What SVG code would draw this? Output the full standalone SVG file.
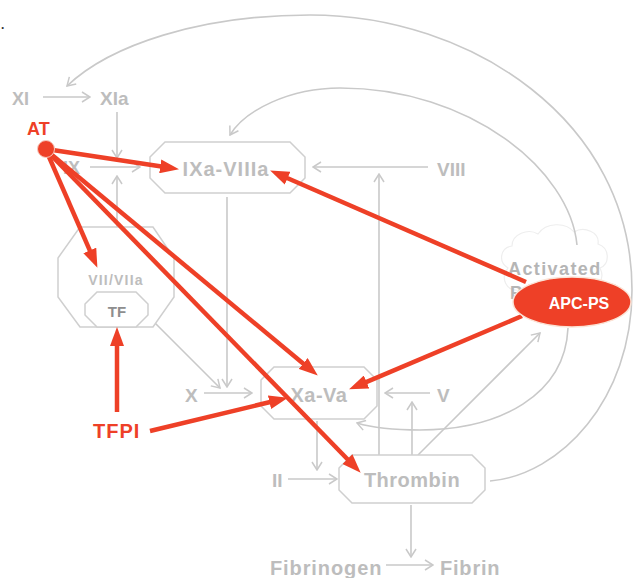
<svg xmlns="http://www.w3.org/2000/svg" width="633" height="578" viewBox="0 0 633 578">
<style>
.g{fill:none;stroke:#c9c9c9;stroke-width:1.6}
.ga{marker-end:url(#ga)}
.r{fill:none;stroke:#ee4027;stroke-width:4.5;marker-end:url(#ra)}
.box{fill:#fff;stroke:#cfcfcf;stroke-width:1.5}
.t{font-family:"Liberation Sans",Arial,sans-serif;font-weight:bold;fill:#bdbdbd}
.m{text-anchor:middle}
</style>
<defs>
<marker id="ga" viewBox="0 0 10 12" refX="9" refY="6" markerWidth="10" markerHeight="12" markerUnits="userSpaceOnUse" orient="auto">
<path d="M1,1 L9,6 L1,11" fill="none" stroke="#c9c9c9" stroke-width="1.5"/>
</marker>
<marker id="ra" viewBox="0 0 19 14" refX="3" refY="7" markerWidth="19" markerHeight="14" markerUnits="userSpaceOnUse" orient="auto">
<path d="M0,0 L19,7 L0,14 Z" fill="#ee4027"/>
</marker>
</defs>
<rect width="633" height="578" fill="#fff"/>
<text class="t" x="1" y="29" font-size="12" style="fill:#333">.</text>

<g id="cloud">
<path d="M508,268 C498,262 500,248 512,246 C512,234 528,228 538,234 C546,222 566,222 574,232 C584,226 600,232 598,244 C610,248 610,264 600,268 C606,280 596,292 584,288 L520,290 C506,292 500,278 508,268 Z" fill="none" stroke="#eeeeee" stroke-width="1.2"/>
<text class="t" x="508" y="275" font-size="18" letter-spacing="1.4" style="fill:#b5b5b5">Activated</text>
<text class="t" x="510" y="299" font-size="18" style="fill:#b5b5b5">P</text>
</g>

<g id="connectors">
<path class="g ga" d="M490,481 C560,475 632,400 632,290 C632,120 470,15 310,15 C200,15 110,45 67,86"/>
<path class="g ga" d="M577,245 C570,170 470,88 340,88 C290,88 245,110 230,135"/>
<path class="g ga" d="M568,328 C565,395 500,430 420,430 C390,430 370,427 357,423"/>
<path class="g ga" d="M43,97 H90"/>
<path class="g ga" d="M117,112 V158"/>
<path class="g ga" d="M90,167 H140"/>
<path class="g ga" d="M117,227 V176"/>
<path class="g ga" d="M428,167 H313"/>
<path class="g ga" d="M379,455 V174"/>
<path class="g ga" d="M227,197 V387"/>
<path class="g ga" d="M155,323 L220,388"/>
<path class="g ga" d="M204,393 H252"/>
<path class="g ga" d="M430,393 H385"/>
<path class="g ga" d="M412,455 V402"/>
<path class="g ga" d="M317,421 V470"/>
<path class="g ga" d="M288,479 H337"/>
<path class="g ga" d="M418,455 L540,333"/>
<path class="g ga" d="M411,505 V557"/>
<path class="g ga" d="M386,565 H433"/>
</g>

<g id="IXa-VIIIa">
<path class="box" d="M165,142 H290 L305,157 V178 L290,193 H165 L150,178 V157 Z"/>
<text class="t m" x="226" y="176" font-size="20" letter-spacing="1">IXa-VIIIa</text>
</g>
<g id="VII-VIIa">
<path class="box" d="M80,227 H153 L174,258 V297 L153,327 H80 L58,297 V258 Z"/>
<text class="t m" x="116" y="285" font-size="14" letter-spacing="1.2">VII/VIIa</text>
</g>
<g id="TF">
<path class="box" d="M97,292 H136 L148,304 V315 L136,327 H97 L85,315 V304 Z"/>
<text class="t m" x="117" y="317" font-size="15" style="fill:#8e8e8e">TF</text>
</g>
<g id="Xa-Va">
<path class="box" d="M274,367 H364 L377,380 V406 L364,419 H274 L261,406 V380 Z"/>
<text class="t m" x="319" y="402" font-size="20" letter-spacing="0.5">Xa-Va</text>
</g>
<g id="Thrombin">
<path class="box" d="M352,455 H472 L485,468 V490 L472,503 H352 L339,490 V468 Z"/>
<text class="t m" x="412" y="487" font-size="20" letter-spacing="0.5">Thrombin</text>
</g>
<g id="XI"><text class="t" x="12" y="105" font-size="18">XI</text></g>
<g id="XIa"><text class="t" x="100" y="105" font-size="19">XIa</text></g>
<g id="IX"><text class="t" x="63" y="174" font-size="18">IX</text></g>
<g id="VIII"><text class="t" x="437" y="176" font-size="19">VIII</text></g>
<g id="X"><text class="t" x="185" y="402" font-size="19">X</text></g>
<g id="V"><text class="t" x="437" y="402" font-size="19">V</text></g>
<g id="II"><text class="t" x="272" y="487" font-size="19">II</text></g>
<g id="Fibrinogen"><text class="t" x="270" y="575" font-size="20" letter-spacing="0.9">Fibrinogen</text></g>
<g id="Fibrin"><text class="t" x="440" y="575" font-size="20" letter-spacing="0.8">Fibrin</text></g>

<g id="inhibitors">
<path class="r" d="M46,149 L163.2,166.8"/>
<path class="r" d="M46,150 L91,253.2"/>
<path class="r" d="M46,150 L305.5,365.4"/>
<path class="r" d="M46,150 L349.5,461.3"/>
<path class="r" d="M117,412 V343"/>
<path class="r" d="M150,431 L272.4,401.5"/>
<path class="r" d="M526,282 L284.8,177"/>
<path class="r" d="M522,316 L363.8,383.1"/>
</g>

<g id="AT">
<circle cx="46" cy="149" r="8.5" fill="#ee4027" stroke="#f7c9bd" stroke-width="1"/>
<text class="t" x="27" y="135" font-size="18" style="fill:#ee4027">AT</text>
</g>
<g id="TFPI">
<text class="t" x="93" y="438" font-size="20" letter-spacing="1" style="fill:#ee4027">TFPI</text>
</g>
<g id="APC-PS">
<ellipse cx="572" cy="302" rx="59" ry="25" fill="#ee4027" stroke="#fbe3d6" stroke-width="1.5"/>
<text class="t m" x="579" y="309" font-size="16" style="fill:#fff">APC-PS</text>
</g>
</svg>
